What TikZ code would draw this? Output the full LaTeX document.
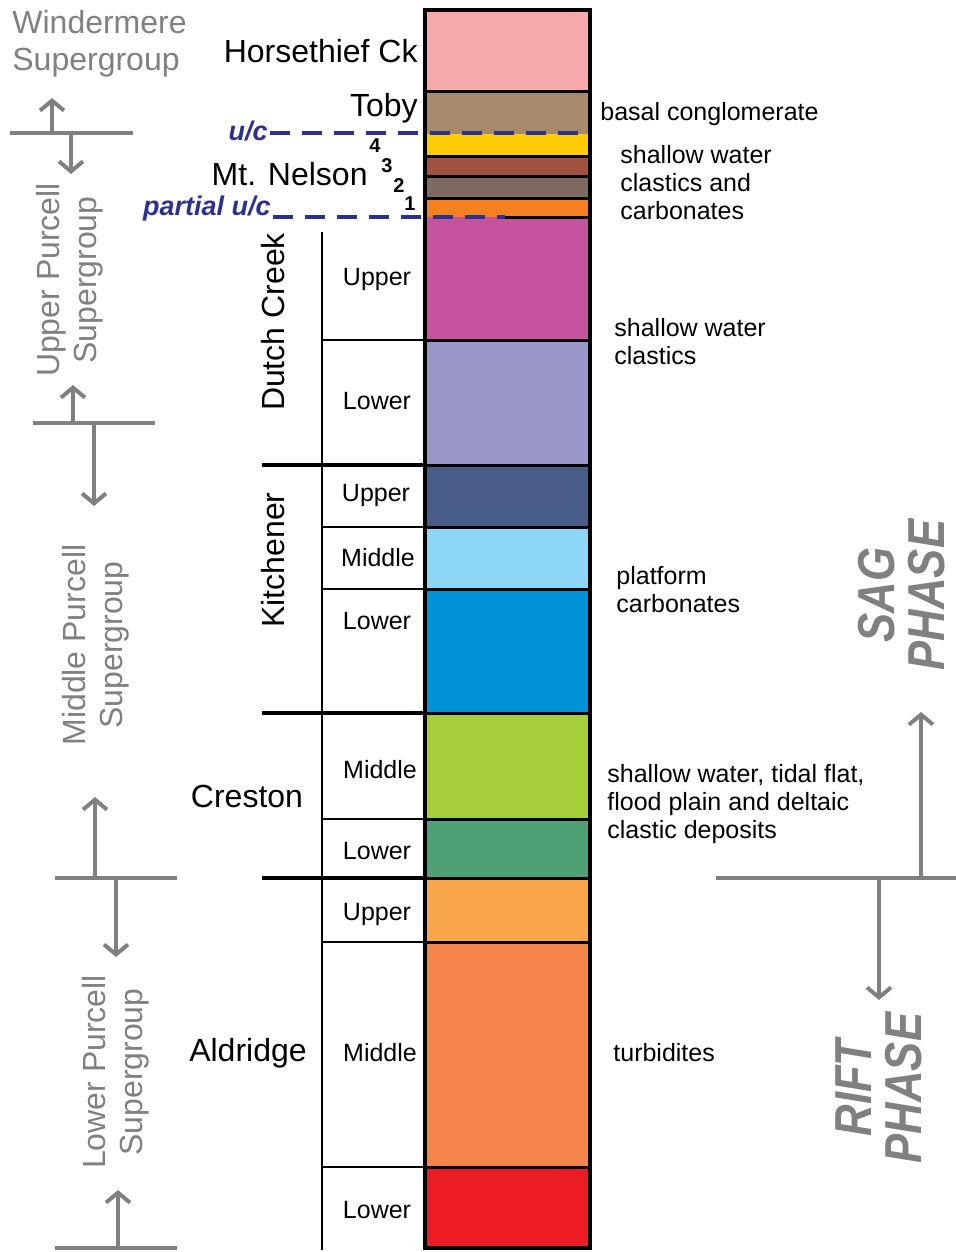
\documentclass[tikz,border=0pt]{standalone}
\usepackage{fontspec}
\setmainfont{Liberation Sans}
\usepackage{graphicx}
\usepackage{xcolor}
\usetikzlibrary{arrows.meta,positioning}
\definecolor{treegray}{RGB}{128,128,128}
\definecolor{ucblue}{RGB}{43,49,143}
\definecolor{horsecol}{RGB}{245,169,171}
\definecolor{tobycol}{RGB}{165,138,108}
\definecolor{mnfour}{RGB}{255,203,5}
\definecolor{mnthree}{RGB}{160,82,63}
\definecolor{mntwo}{RGB}{125,106,97}
\definecolor{mnone}{RGB}{246,129,33}
\definecolor{dcupper}{RGB}{197,83,158}
\definecolor{dclower}{RGB}{155,150,200}
\definecolor{kiupper}{RGB}{71,92,136}
\definecolor{kimiddle}{RGB}{141,215,246}
\definecolor{kilower}{RGB}{0,147,215}
\definecolor{crmiddle}{RGB}{166,206,57}
\definecolor{crlower}{RGB}{79,160,117}
\definecolor{alupper}{RGB}{248,166,73}
\definecolor{almiddle}{RGB}{245,132,74}
\definecolor{allower}{RGB}{236,28,36}
\newcommand{\fmfont}{\fontsize{16}{18.5}\selectfont}
\newcommand{\subfont}{\fontsize{12.5}{14}\selectfont}
\newcommand{\descfont}{\fontsize{12.5}{14}\selectfont}
\newcommand{\ucfont}{\fontsize{13.5}{15}\selectfont\bfseries\itshape}
\newcommand{\numfont}{\fontsize{10}{11}\selectfont\bfseries}
\newcommand{\phasefont}{\fontsize{26}{25}\selectfont\bfseries\itshape}

\begin{document}
\begin{tikzpicture}[x=0.5pt, y=-0.5pt,
	sep/.style={line width=1.5pt},
	thinsep/.style={line width=1pt},
	fmsep/.style={line width=2pt},
	treeline/.style={treegray, line width=2pt},
	treearrow/.style={treegray, line width=2pt, -{Straight Barb[length=5pt, width=12pt, line width=2pt]}},
	ucline/.style={ucblue, line width=1.8pt, dash pattern=on 10pt off 6pt},
	fmname/.style={font=\fmfont, inner sep=0pt},
	subname/.style={font=\subfont, inner sep=0pt},
	numname/.style={font=\numfont, inner sep=0pt},
	desc/.style={font=\descfont, align=left, anchor=west, inner sep=0pt},
	grouplabel/.style={font=\fmfont, text=treegray, align=center, rotate=90, inner sep=0pt},
	phaselabel/.style={font=\phasefont, text=treegray, align=center, rotate=90, inner sep=0pt}]
		\useasboundingbox (0,0) rectangle (956,1252);
		% column fills
		\fill [horsecol] (425,10) rectangle (590,92);
		\fill [tobycol] (425,92) rectangle (590,134);
		\fill [mnfour] (425,134) rectangle (590,156);
		\fill [mnthree] (425,156) rectangle (590,176);
		\fill [mntwo] (425,176) rectangle (590,198);
		\fill [mnone] (425,198) rectangle (590,217);
		\fill [dcupper] (425,217) rectangle (590,340);
		\fill [dclower] (425,340) rectangle (590,465);
		\fill [kiupper] (425,465) rectangle (590,527);
		\fill [kimiddle] (425,527) rectangle (590,589);
		\fill [kilower] (425,589) rectangle (590,713);
		\fill [crmiddle] (425,713) rectangle (590,819);
		\fill [crlower] (425,819) rectangle (590,878);
		\fill [alupper] (425,878) rectangle (590,942);
		\fill [almiddle] (425,942) rectangle (590,1167);
		\fill [allower] (425,1167) rectangle (590,1248);
		% layer boundaries
		\draw [sep] (425,92) -- (590,92);
		\draw [sep] (425,156) -- (590,156);
		\draw [sep] (425,176) -- (590,176);
		\draw [sep] (425,198) -- (590,198);
		\draw [sep] (505,217) -- (590,217);
		\draw [sep] (425,340) -- (590,340);
		\draw [sep] (425,465) -- (590,465);
		\draw [sep] (425,527) -- (590,527);
		\draw [sep] (425,589) -- (590,589);
		\draw [sep] (425,713) -- (590,713);
		\draw [sep] (425,819) -- (590,819);
		\draw [sep] (425,878) -- (590,878);
		\draw [sep] (425,942) -- (590,942);
		\draw [sep] (425,1167) -- (590,1167);
		\draw [line width=2pt] (425,10) rectangle (590,1248);
		% member brackets
		\draw [thinsep] (322,232) -- (322,1250);
		\draw [thinsep] (322,340) -- (425,340);
		\draw [thinsep] (322,527) -- (425,527);
		\draw [thinsep] (322,589) -- (425,589);
		\draw [thinsep] (322,819) -- (425,819);
		\draw [thinsep] (322,942) -- (425,942);
		\draw [thinsep] (322,1167) -- (425,1167);
		\draw [fmsep] (262,465) -- (425,465);
		\draw [fmsep] (262,713) -- (425,713);
		\draw [fmsep] (262,878) -- (425,878);
		% formation names
		\node [fmname, anchor=east] (horsethief) at (418,51) {Horsethief Ck};
		\node [fmname, anchor=east] (toby) at (418,108) {Toby};
		\node [fmname, anchor=east] (nelson) at (368,174) {Mt. Nelson};
		\node [fmname, rotate=90] (dutch) at (273,322) {Dutch Creek};
		\node [fmname, rotate=90] (kitchener) at (273,560) {Kitchener};
		\node [fmname] (creston) at (247,796) {Creston};
		\node [fmname] (aldridge) at (248,1053) {Aldridge};
		\node [numname] (mnf) at (375,146) {4};
		\node [numname] (mnt) at (387,166) {3};
		\node [numname] (mns) at (399,186) {2};
		\node [numname] (mno) at (410,204) {1};
		% unconformities
		\node [font=\ucfont, text=ucblue, anchor=east, inner sep=1pt] (uc) at (270,131) {u/c};
		\node [font=\ucfont, text=ucblue, anchor=east, inner sep=1pt] (puc) at (273,209) {partial u/c};
		\coordinate (ucend) at (590,133);
		\coordinate (pucend) at (505,217);
		\draw [ucline] (uc.east |- ucend) -- (ucend);
		\draw [ucline] (puc.east |- pucend) -- (pucend);
		% members
		\node [subname] (dcu) at (377,279) {Upper};
		\node [subname] (dcl) at (377,401) {Lower};
		\node [subname] (kiu) at (376,495) {Upper};
		\node [subname] (kim) at (378,558) {Middle};
		\node [subname] (kil) at (377,621) {Lower};
		\node [subname] (crm) at (380,770) {Middle};
		\node [subname] (crl) at (377,851) {Lower};
		\node [subname] (alu) at (377,914) {Upper};
		\node [subname] (alm) at (380,1053) {Middle};
		\node [subname] (all) at (377,1210) {Lower};
		% depositional settings
		\node [desc] (basal) at (600,114) {basal conglomerate};
		\node [desc] (mndesc) at (620,183) {shallow water\\clastics and\\carbonates};
		\node [desc] (dcdesc) at (614,342) {shallow water\\clastics};
		\node [desc] (kidesc) at (616,590) {platform\\carbonates};
		\node [desc] (crdesc) at (607,804) {shallow water, tidal flat,\\flood plain and deltaic\\clastic deposits};
		\node [desc] (aldesc) at (613,1053) {turbidites};
		% supergroups
		\node [font=\fmfont, text=treegray, align=left, anchor=north west, inner sep=0pt] (winder) at (12,10) {Windermere\\Supergroup};
		\node [grouplabel] (upper) at (70,280) {Upper Purcell\\Supergroup};
		\node [grouplabel] (middle) at (96,645) {Middle Purcell\\Supergroup};
		\node [grouplabel] (lower) at (116,1072) {Lower Purcell\\Supergroup};
		\draw [treeline] (10,133) -- (133,133);
		\draw [treearrow] (52,133) -- (52,98);
		\draw [treearrow] (71,133) -- (71,174);
		\draw [treeline] (33,423) -- (155,423);
		\draw [treearrow] (73,423) -- (73,385);
		\draw [treearrow] (94,423) -- (94,506);
		\draw [treeline] (55,878) -- (177,878);
		\draw [treearrow] (95,878) -- (95,797);
		\draw [treearrow] (116,878) -- (116,957);
		\draw [treeline] (55,1248) -- (177,1248);
		\draw [treearrow] (118,1248) -- (118,1190);
		% tectonic phases
		\draw [treeline] (716,878) -- (956,878);
		\draw [treearrow] (921,878) -- (921,712);
		\draw [treearrow] (879,878) -- (879,1000);
		\node [phaselabel] (sag) at (902,595) {\scalebox{0.84}[1]{SAG}\\\scalebox{0.84}[1]{PHASE}};
		\node [phaselabel] (rift) at (879,1088) {\scalebox{0.84}[1]{RIFT}\\\scalebox{0.84}[1]{PHASE}};
	\end{tikzpicture}
\end{document}
